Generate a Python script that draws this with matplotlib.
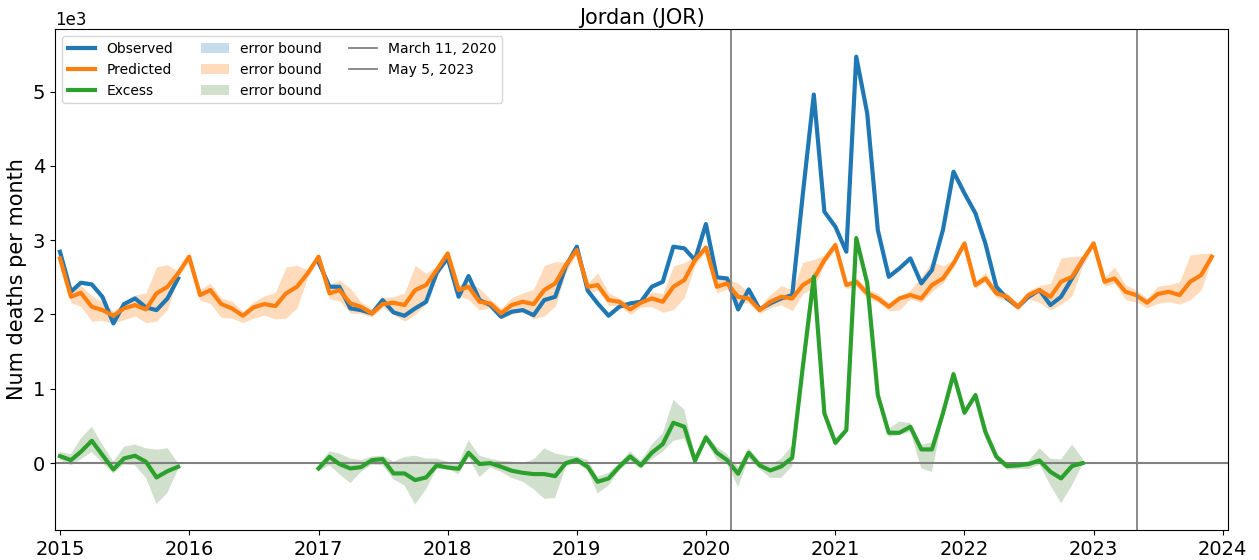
import numpy as np
import pandas as pd
import matplotlib
matplotlib.use("Agg")
import matplotlib.pyplot as plt
import matplotlib.dates as mdates

nan = np.nan

# monthly values, Jan 2015 .. Dec 2023 (predicted) / Dec 2022 (observed, excess)
months = pd.date_range("2015-01-01", "2023-12-01", freq="MS")

predicted = [
    2755, 2238, 2292, 2104, 2059, 1983, 2082, 2127, 2068, 2284, 2373, 2553,
    2777, 2261, 2328, 2140, 2082, 1983, 2095, 2140, 2113, 2284, 2373, 2553,
    2777, 2284, 2328, 2149, 2104, 2014, 2140, 2158, 2127, 2328, 2396, 2598,
    2822, 2328, 2373, 2171, 2149, 2014, 2127, 2171, 2140, 2328, 2418, 2665,
    2867, 2373, 2396, 2194, 2171, 2068, 2158, 2216, 2171, 2373, 2463, 2732,
    2900, 2373, 2418, 2238, 2216, 2059, 2171, 2238, 2216, 2396, 2485, 2732,
    2934, 2396, 2440, 2284, 2216, 2104, 2216, 2261, 2216, 2396, 2485, 2687,
    2957, 2396, 2485, 2284, 2238, 2104, 2261, 2328, 2238, 2440, 2507, 2732,
    2957, 2440, 2485, 2306, 2261, 2158, 2275, 2306, 2261, 2440, 2530, 2777,
]
pred_hi = [
    2810, 2310, 2390, 2250, 2170, 2040, 2160, 2260, 2290, 2640, 2670, 2580,
    2830, 2340, 2420, 2220, 2180, 2040, 2170, 2250, 2300, 2640, 2660, 2600,
    2815, 2400, 2465, 2350, 2170, 2075, 2225, 2240, 2290, 2660, 2555, 2650,
    2850, 2400, 2430, 2350, 2210, 2085, 2225, 2290, 2340, 2660, 2710, 2705,
    2910, 2420, 2560, 2290, 2220, 2130, 2210, 2305, 2280, 2650, 2700, 2780,
    2945, 2470, 2480, 2420, 2300, 2110, 2270, 2390, 2330, 2700, 2740, 2800,
    2990, 2440, 2500, 2350, 2280, 2160, 2250, 2330, 2500, 2720, 2650, 2740,
    2990, 2440, 2570, 2330, 2290, 2150, 2320, 2390, 2420, 2760, 2780, 2790,
    3000, 2500, 2640, 2400, 2330, 2220, 2380, 2400, 2440, 2800, 2820, 2820,
]
pred_lo = [
    2700, 2160, 2110, 1910, 1920, 1880, 1930, 1980, 1890, 1910, 2070, 2500,
    2720, 2190, 2150, 1960, 1950, 1890, 1950, 1990, 1940, 1950, 2090, 2500,
    2735, 2210, 2185, 2020, 2010, 1965, 2095, 2000, 1910, 2000, 2145, 2510,
    2760, 2250, 2200, 2060, 2090, 1935, 2005, 2040, 1940, 1980, 2110, 2565,
    2820, 2280, 2330, 2120, 2120, 2000, 2100, 2105, 2030, 2065, 2230, 2660,
    2845, 2290, 2340, 2150, 2155, 2010, 2090, 2130, 2050, 2280, 2360, 2680,
    2880, 2350, 2380, 2220, 2170, 2050, 2060, 2210, 2160, 2310, 2420, 2640,
    2920, 2350, 2440, 2230, 2180, 2050, 2210, 2160, 2060, 2140, 2250, 2660,
    2910, 2380, 2420, 2200, 2170, 2090, 2150, 2170, 2140, 2200, 2330, 2740,
]
observed = [
    2844, 2306, 2427, 2405, 2238, 1880, 2140, 2216, 2095, 2059, 2216, 2485,
    nan, nan, nan, nan, nan, nan, nan, nan, nan, nan, nan, nan,
    2705, 2373, 2373, 2082, 2059, 2014, 2194, 2028, 1983, 2082, 2171, 2560,
    2760, 2238, 2517, 2194, 2127, 1969, 2037, 2059, 1991, 2194, 2238, 2650,
    2912, 2320, 2149, 1983, 2104, 2149, 2171, 2373, 2440, 2912, 2890, 2732,
    3217, 2499, 2485, 2068, 2337, 2068, 2149, 2216, 2261, 3620, 4960, 3383,
    3181, 2844, 5469, 4707, 3136, 2507, 2620, 2755, 2418, 2598, 3136, 3921,
    3630, 3361, 2957, 2373, 2216, 2104, 2238, 2328, 2127, 2238, 2485, 2732,
]
excess = [
    94, 40, 152, 300, 108, -85, 63, 99, 18, -193, -108, -49,
    nan, nan, nan, nan, nan, nan, nan, nan, nan, nan, nan, nan,
    -72, 85, -13, -72, -54, 40, 54, -139, -139, -229, -193, -30,
    -60, -76, 139, -13, 0, -49, -103, -130, -148, -148, -175, 0,
    45, -50, -251, -206, -49, 90, -31, 139, 256, 543, 489, 31,
    345, 139, 40, -143, 139, -31, -99, -45, 72, 1296, 2507, 669,
    274, 444, 3028, 2423, 915, 408, 408, 489, 184, 184, 669, 1198,
    677, 915, 422, 85, -40, -31, -13, 36, -117, -206, -40, 0,
]
excess_lo = [
    40, -30, 50, 150, 0, -140, -20, -30, -200, -550, -400, -80,
    nan, nan, nan, nan, nan, nan, nan, nan, nan, nan, nan, nan,
    -110, -30, -150, -270, -120, -20, -30, -220, -300, -560, -350, -80,
    -80, -150, 80, -190, -60, -120, -200, -250, -350, -480, -470, -40,
    0, -100, -410, -300, -100, 30, -80, 50, 150, 300, 330, -20,
    300, 40, -20, -320, 60, -80, -200, -200, -40, 1150, 2250, 600,
    220, 400, 2950, 2350, 850, 350, 380, 420, -70, -120, 600, 1150,
    640, 870, 330, 40, -90, -80, -80, -20, -300, -540, -300, -20,
]
excess_hi = [
    150, 120, 330, 490, 250, 20, 220, 250, 200, 180, 200, 0,
    nan, nan, nan, nan, nan, nan, nan, nan, nan, nan, nan, nan,
    -30, 160, 130, 60, 40, 90, 100, 20, 80, 100, 60, 60,
    20, 0, 310, 100, 60, 30, 20, 0, 50, 200, 130, 100,
    90, 40, -180, -130, 0, 160, 30, 250, 400, 850, 720, 100,
    400, 220, 120, -50, 200, 20, -20, 60, 240, 1400, 2600, 720,
    330, 480, 3080, 2480, 960, 460, 560, 540, 250, 280, 720, 1250,
    720, 960, 470, 140, 0, 0, 30, 200, 60, 50, 250, 60,
]

events = [("2020-03-11", "March 11, 2020"), ("2023-05-05", "May 5, 2023")]

obs_months = months[:len(observed)]
blue, orange, green = "#1f77b4", "#ff7f0e", "#2ca02c"

fig, ax = plt.subplots(figsize=(12.59, 5.6), dpi=100)
fig.subplots_adjust(left=0.0437, right=0.9754, top=0.948, bottom=0.0536)

# error bands (the observed one has zero width)
f_obs = ax.fill_between(obs_months, observed, observed, color=blue, alpha=0.25,
                        linewidth=0, label="error bound")
f_pred = ax.fill_between(months, pred_lo, pred_hi, color=orange, alpha=0.28,
                         linewidth=0, label="error bound")
f_exc = ax.fill_between(obs_months, excess_lo, excess_hi, color="#4b8737", alpha=0.25,
                        linewidth=0, label="error bound")

l_obs, = ax.plot(obs_months, observed, color=blue, lw=3, label="Observed")
l_pred, = ax.plot(months, predicted, color=orange, lw=3, label="Predicted")
l_exc, = ax.plot(obs_months, excess, color=green, lw=3, label="Excess")

ax.axhline(0, color="gray", lw=1.5, zorder=1)
vls = []
for d, lab in events:
    vls.append(ax.axvline(pd.Timestamp(d), color="gray", lw=1.3, label=lab))

ax.set_xlim(pd.Timestamp("2014-12-18"), pd.Timestamp("2024-01-16"))
ax.set_ylim(-900, 5840)
ax.xaxis.set_major_locator(mdates.YearLocator())
ax.xaxis.set_major_formatter(mdates.DateFormatter("%Y"))
ax.ticklabel_format(axis="y", style="sci", scilimits=(3, 3))
ax.yaxis.get_offset_text().set_fontsize(12)
ax.tick_params(labelsize=14)

ax.set_title("Jordan (JOR)", fontsize=15, pad=4)
ax.set_ylabel("Num deaths per month", fontsize=15)

ax.legend(handles=[l_obs, l_pred, l_exc, f_obs, f_pred, f_exc] + vls,
          loc="upper left", ncol=3, fontsize=10)

fig.savefig("out.png", dpi=100)
